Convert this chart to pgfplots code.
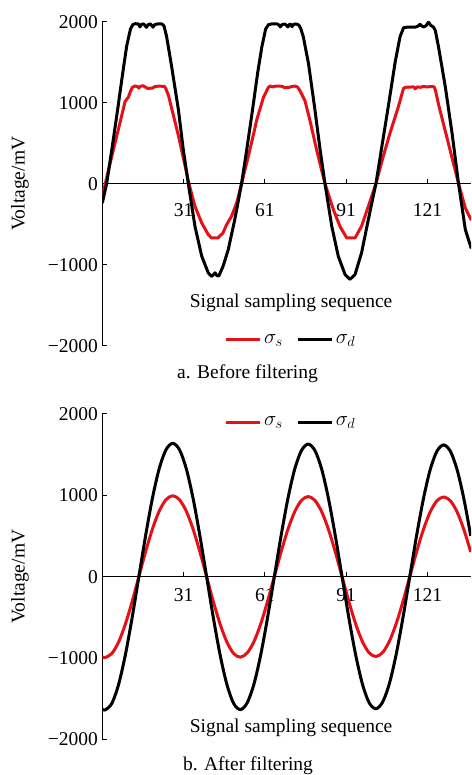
\documentclass[border=0pt]{standalone}
\usepackage{fontspec}
\setmainfont{Liberation Serif}
\usepackage{pgfplots}
\pgfplotsset{compat=1.18}
\definecolor{myred}{RGB}{228,18,24}
\newcommand{\fs}{\fontsize{19.5}{23}\selectfont}

\pgfplotstableread{
x y
1.0 -240
2.6 0
4.6 440
6.6 900
8.6 1380
10.0 1700
11.4 1910
12.3 1965
13.2 1975
14.3 1972
14.9 1935
15.5 1968
16.3 1972
17.3 1930
18.0 1965
18.8 1972
19.7 1932
20.4 1965
21.5 1972
23.0 1972
23.8 1945
24.75 1814
26.6 1445
29.1 911
30.9 419
32.75 0
35.2 -525
37.7 -895
40.1 -1100
41.3 -1145
42.0 -1125
42.6 -1100
43.3 -1135
44.0 -1140
45.6 -1018
47.5 -813
49.9 -443
52.4 0
54.4 440
56.4 900
58.4 1380
59.9 1690
61.3 1910
62.3 1962
63.5 1972
65.5 1972
66.2 1960
66.7 1935
67.3 1962
68.3 1972
69.0 1955
69.5 1935
70.0 1965
70.5 1970
71.0 1938
71.5 1965
72.5 1972
73.5 1960
74.2 1920
75.2 1814
77.1 1486
79.5 911
81.4 419
83.2 0
85.7 -525
88.1 -895
90.6 -1120
92.4 -1182
94.3 -1120
96.7 -854
99.2 -443
102.0 0
104.1 440
106.6 960
109.1 1500
110.9 1814
112.2 1925
113.5 1932
116.5 1932
117.5 1945
118.3 1968
119.0 1945
119.6 1935
120.5 1950
121.4 1995
122.2 1955
123.2 1935
123.9 1894
125.1 1691
127.6 1199
130.1 624
132.5 0
135.0 -566
137.2 -800
}\blackA

\pgfplotstableread{
x y
1.0 -156
2.1 0
4.5 337
6.9 665
9.4 1014
10.6 1067
11.4 1140
12.1 1190
13.0 1205
14.0 1200
14.5 1180
15.0 1200
16.0 1210
17.0 1190
17.8 1175
18.5 1178
19.5 1180
20.5 1200
22.0 1205
24.0 1200
24.5 1170
25.5 1080
27.3 837
29.1 591
31.0 304
33.0 0
35.2 -279
37.7 -484
40.1 -628
41.3 -669
43.8 -669
44.5 -640
45.0 -628
45.5 -610
46.9 -505
48.7 -402
50.6 -238
52.4 0
54.9 337
57.3 680
58.0 788
60.5 1067
62.3 1190
63.0 1205
64.0 1195
65.0 1205
66.5 1205
67.5 1200
68.3 1185
69.0 1190
70.0 1190
71.0 1200
72.0 1205
73.0 1195
73.95 1150
75.8 1026
77.6 788
80.1 419
83.2 0
86.3 -320
88.7 -525
91.2 -669
94.3 -669
96.7 -525
99.2 -279
102.0 0
104.7 337
107.2 624
110.3 952
112.2 1178
113.0 1190
116.0 1195
116.5 1170
117.2 1195
118.5 1190
119.5 1200
121.0 1195
122.5 1200
123.5 1195
124.0 1150
125.1 980
127.6 650
130.1 320
132.5 0
135.0 -300
137.2 -450
}\redA

\pgfplotstableread{
x y
1 -1628
2 -1640
4.5 -1560
7 -1327
9.5 -964
12 -507
14.5 0
17 507
19.5 964
22 1327
24.5 1560
27 1640
29.5 1560
32 1327
34.5 964
37 507
39.5 0
42 -507
44.5 -964
47 -1327
49.5 -1560
52 -1635
54.5 -1550
57 -1319
59.5 -958
62 -504
64.5 0
67 504
69.5 958
72 1319
74.5 1550
77 1630
79.5 1550
82 1319
84.5 958
87 504
89.5 0
92 -504
94.5 -958
97 -1319
99.5 -1550
102 -1625
104.5 -1541
107 -1311
109.5 -952
112 -501
114.5 0
117 501
119.5 952
122 1311
124.5 1541
127 1620
129.5 1541
132 1311
134.5 952
137 501
}\blackB

\pgfplotstableread{
x y
1 -988
2 -995
4.5 -946
7 -805
9.5 -585
12 -308
14.5 0
17 308
19.5 585
22 805
24.5 946
27 995
29.5 946
32 805
34.5 585
37 308
39.5 0
42 -308
44.5 -585
47 -805
49.5 -946
52 -990
54.5 -937
57 -797
59.5 -579
62 -304
64.5 0
67 304
69.5 579
72 797
74.5 937
77 985
79.5 937
82 797
84.5 579
87 304
89.5 0
92 -304
94.5 -579
97 -797
99.5 -937
102 -982
104.5 -932
107 -793
109.5 -576
112 -303
114.5 0
117 303
119.5 576
122 793
124.5 932
127 980
129.5 932
132 793
134.5 576
137 303
}\redB

\pgfplotsset{
  myaxis/.style={
    scale only axis,
    width=368.7pt,
    xmin=1, xmax=137.1, ymin=-2000, ymax=2000,
    axis x line=middle, axis y line=left,
    axis line style={line width=1pt, -},
    every tick/.style={black, line width=1pt},
    tick align=inside,
    major tick length=5pt,
    ytick={-2000,-1000,0,1000,2000},
    yticklabels={−2000,−1000,0,1000,2000},
    tick label style={font=\fs},
    /pgf/number format/assume math mode=true,
    yticklabel style={anchor=east, xshift=-1pt},
    ylabel={Voltage/mV},
    ylabel style={at={(axis description cs:-0.223,0.5)}, anchor=center, font=\fs},
    xlabel={Signal sampling sequence},
    legend image code/.code={\draw[##1, line width=3.2pt] (0pt,0pt) -- (34pt,0pt);},
    legend style={draw=none, fill=none, font=\fs, legend columns=2,
      /tikz/every even column/.append style={column sep=12pt}},
    clip=true,
  },
  redline/.style={color=myred, line width=3pt, line join=round},
  blackline/.style={color=black, line width=3pt, line join=round},
}

\begin{document}
\begin{tikzpicture}
\useasboundingbox (0pt,0pt) rectangle (471pt,775pt);

\begin{axis}[myaxis,
  at={(102.3pt,429.3pt)}, anchor=south west, height=324pt,
  xtick={31,61,91,121}, xticklabels={31,61,91,121},
  xticklabel style={anchor=center, yshift=-26pt},
  xlabel style={at={(axis description cs:0.512,0.133)}, anchor=center, font=\fs},
  legend style={at={(axis description cs:0.512,0.018)}, anchor=center},
]
\addplot[redline] table[x=x,y=y] {\redA};
\addlegendentry{$\sigma_s$}
\addplot[blackline] table[x=x,y=y] {\blackA};
\addlegendentry{$\sigma_d$}
\end{axis}

\begin{axis}[myaxis,
  at={(102.3pt,35.7pt)}, anchor=south west, height=325.3pt,
  xtick={1,31,61,91,121}, xticklabels={1,31,61,91,121},
  xticklabel style={anchor=center, yshift=-18.3pt},
  xlabel style={at={(axis description cs:0.512,0.034)}, anchor=center, font=\fs},
  legend style={at={(axis description cs:0.512,0.975)}, anchor=center},
]
\addplot[redline, smooth] table[x=x,y=y] {\redB};
\addlegendentry{$\sigma_s$}
\addplot[blackline, smooth] table[x=x,y=y] {\blackB};
\addlegendentry{$\sigma_d$}
\end{axis}

\node[font=\fs] at (247.5pt,400.8pt) {a. Before filtering};
\node[font=\fs, inner sep=0pt] at (248pt,9.5pt) {b. After filtering};
\end{tikzpicture}
\end{document}
